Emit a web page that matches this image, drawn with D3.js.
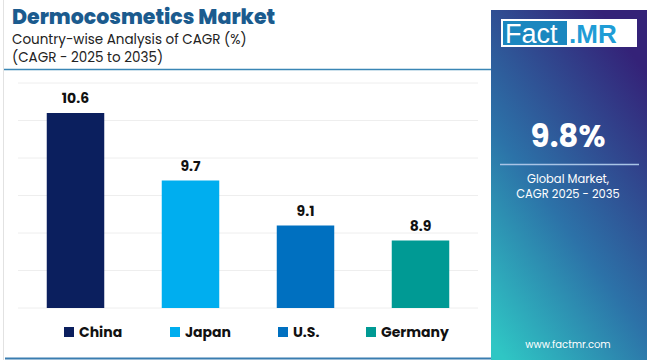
<!DOCTYPE html>
<html><head><meta charset="utf-8">
<script src="https://cdn.jsdelivr.net/npm/d3@7"></script>
<style>body{margin:0;background:#fff}svg{display:block}</style>
</head><body>
<svg id="c" width="650" height="360"></svg>
<script>
const categories = ["China", "Japan", "U.S.", "Germany"];
const values = [10.6, 9.7, 9.1, 8.9];
const colors = ["#0b1f5e", "#00aeef", "#0070c0", "#009a94"];
const yTicks = [8, 8.5, 9, 9.5, 10, 10.5, 11];
const titleText = "Dermocosmetics Market";
const subtitle1 = "Country-wise Analysis of CAGR (%)";
const subtitle2 = "(CAGR - 2025 to 2035)";
const globalValue = "9.8%";
const globalLabel = ["Global Market,", "CAGR 2025 - 2035"];

const svg = d3.select("#c");
const F = "Poppins, Inter, 'Noto Sans', sans-serif";

// outer frame
svg.append("rect").attr("x",0).attr("y",0).attr("width",650).attr("height",360).attr("fill","#fff");
svg.append("rect").attr("x",3.5).attr("y",-2).attr("width",660).attr("height",370).attr("fill","none").attr("stroke","#e2e2e2");

// titles
svg.append("text").attr("x",12).attr("y",24).attr("font-family",F).attr("font-weight",800)
  .attr("font-size",20.5).attr("fill","#1b5b8e").text(titleText);
svg.append("text").attr("x",12).attr("y",44).attr("font-family",F)
  .attr("font-size",13.5).attr("fill","#222").text(subtitle1);
svg.append("text").attr("x",12).attr("y",61.5).attr("font-family",F)
  .attr("font-size",13.5).attr("fill","#222").text(subtitle2);
svg.append("line").attr("x1",4).attr("x2",491).attr("y1",69.5).attr("y2",69.5)
  .attr("stroke","#3a86b5").attr("stroke-width",1.5);
svg.append("line").attr("x1",5).attr("x2",491).attr("y1",358.5).attr("y2",358.5)
  .attr("stroke","#3a7db0").attr("stroke-width",2);

// scales
const x = d3.scaleBand().domain(categories).range([18, 478]).paddingInner(0.5).paddingOuter(0.25);
const y = d3.scaleLinear().domain([8, 11]).range([308, 83]);

// gridlines
svg.append("g").selectAll("line").data(yTicks).join("line")
  .attr("x1",18).attr("x2",478).attr("y1",d=>y(d)).attr("y2",d=>y(d))
  .attr("stroke","#eeeeee").attr("stroke-width",1);

// bars
svg.append("g").selectAll("rect").data(values).join("rect")
  .attr("x",(d,i)=>x(categories[i])).attr("width",x.bandwidth())
  .attr("y",d=>y(d)).attr("height",d=>y(8)-y(d))
  .attr("fill",(d,i)=>colors[i]);
svg.append("g").selectAll("text").data(values).join("text")
  .attr("x",(d,i)=>x(categories[i])+x.bandwidth()/2).attr("y",d=>y(d)-10)
  .attr("text-anchor","middle").attr("font-family",F).attr("font-weight",700)
  .attr("font-size",14).attr("fill","#111").text(d=>d.toFixed(1));

// legend
const legX = [64, 170, 278, 366];
const lg = svg.append("g").selectAll("g").data(categories).join("g")
  .attr("transform",(d,i)=>`translate(${legX[i]},327)`);
lg.append("rect").attr("width",10).attr("height",10).attr("fill",(d,i)=>colors[i]);
lg.append("text").attr("x",15).attr("y",10).attr("font-family",F).attr("font-weight",700)
  .attr("font-size",14).attr("fill","#111").text(d=>d);

// right panel
const defs = svg.append("defs");
const g = defs.append("linearGradient").attr("id","pg").attr("x1","0.1").attr("y1","1").attr("x2","0.7").attr("y2","0");
g.append("stop").attr("offset","0").attr("stop-color","#2fc6c4");
g.append("stop").attr("offset","0.45").attr("stop-color","#2c72a8");
g.append("stop").attr("offset","1").attr("stop-color","#342278");
svg.append("rect").attr("x",491).attr("y",10).attr("width",156).attr("height",352).attr("fill","url(#pg)");

// logo
svg.append("rect").attr("x",501).attr("y",19).attr("width",136).attr("height",28).attr("fill","#fff");
svg.append("rect").attr("x",503).attr("y",21).attr("width",64).attr("height",24).attr("fill","#1b87bf");
svg.append("text").attr("x",505).attr("y",43).attr("font-family","'Liberation Sans', sans-serif")
  .attr("font-size",27).attr("fill","#fff").text("Fact");
svg.append("text").attr("x",569).attr("y",43).attr("font-family","'Liberation Sans', sans-serif")
  .attr("font-weight",700).attr("font-size",26).attr("fill","#1f9dd6").text(".MR");

svg.append("text").attr("x",568).attr("y",147).attr("text-anchor","middle").attr("font-family",F)
  .attr("font-weight",700).attr("font-size",31).attr("fill","#fff").text(globalValue);
svg.append("line").attr("x1",500).attr("x2",639).attr("y1",164.5).attr("y2",164.5)
  .attr("stroke","#a9c4e6").attr("stroke-width",1.5);
svg.append("g").selectAll("text").data(globalLabel).join("text")
  .attr("x",568).attr("y",(d,i)=>183+i*14.5).attr("text-anchor","middle").attr("font-family",F)
  .attr("font-size",11.5).attr("fill","#fff").text(d=>d);
svg.append("text").attr("x",568).attr("y",348).attr("text-anchor","middle").attr("font-family",F)
  .attr("font-size",10).attr("fill","#fff").text("www.factmr.com");
</script>
</body></html>
